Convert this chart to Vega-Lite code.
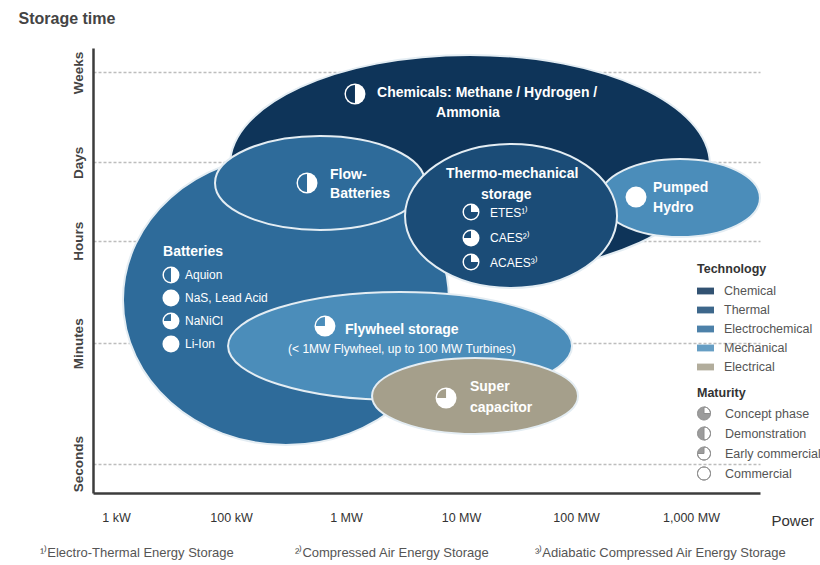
{
  "$schema": "https://vega.github.io/schema/vega-lite/v6.json",
  "width": 667,
  "height": 445,
  "autosize": {"type": "none"},
  "padding": {"left": 93, "top": 48, "right": 60, "bottom": 72},
  "background": "white",
  "config": {"view": {"stroke": null}, "font": "Liberation Sans"},
  "datasets": {
    "ellipses": [
      {"name": "Chemicals", "technology": "Chemical", "px": 3.078, "lvl": 3.054},
      {"name": "Batteries", "technology": "Electrochemical", "px": 1.478, "lvl": 1.673},
      {"name": "Flow-Batteries", "technology": "Electrochemical", "px": 1.774, "lvl": 2.87},
      {"name": "Pumped Hydro", "technology": "Mechanical", "px": 4.904, "lvl": 2.716},
      {"name": "Thermo-mechanical storage", "technology": "Thermal", "px": 3.435, "lvl": 2.532},
      {"name": "Flywheel storage", "technology": "Mechanical", "px": 2.47, "lvl": 1.203},
      {"name": "Super capacitor", "technology": "Electrical", "px": 3.122, "lvl": 0.692}
    ],
    "icons": [
      {"item": "Chemicals", "technology": "Chemical", "maturity": "Demonstration", "kind": "heading", "px": 2.078, "lvl": 3.78},
      {"item": "Flow-Batteries", "technology": "Electrochemical", "maturity": "Demonstration", "kind": "heading", "px": 1.661, "lvl": 2.87},
      {"item": "Pumped Hydro", "technology": "Mechanical", "maturity": "Commercial", "kind": "heading", "px": 4.522, "lvl": 2.726},
      {"item": "Flywheel storage", "technology": "Mechanical", "maturity": "Early commercial", "kind": "heading", "px": 1.817, "lvl": 1.407},
      {"item": "Super capacitor", "technology": "Electrical", "maturity": "Early commercial", "kind": "heading", "px": 2.87, "lvl": 0.671},
      {"item": "ETES", "technology": "Thermal", "maturity": "Concept phase", "kind": "item", "px": 3.087, "lvl": 2.573},
      {"item": "CAES", "technology": "Thermal", "maturity": "Early commercial", "kind": "item", "px": 3.087, "lvl": 2.307},
      {"item": "ACAES", "technology": "Thermal", "maturity": "Concept phase", "kind": "item", "px": 3.087, "lvl": 2.062},
      {"item": "Aquion", "technology": "Electrochemical", "maturity": "Demonstration", "kind": "item", "px": 0.478, "lvl": 1.929},
      {"item": "NaS, Lead Acid", "technology": "Electrochemical", "maturity": "Commercial", "kind": "item", "px": 0.478, "lvl": 1.694},
      {"item": "NaNiCl", "technology": "Electrochemical", "maturity": "Early commercial", "kind": "item", "px": 0.478, "lvl": 1.459},
      {"item": "Li-Ion", "technology": "Electrochemical", "maturity": "Commercial", "kind": "item", "px": 0.478, "lvl": 1.223}
    ],
    "labels": [
      {"text": "Chemicals: Methane / Hydrogen /", "kind": "heading", "px": 2.27, "lvl": 3.79},
      {"text": "Ammonia", "kind": "heading", "px": 2.783, "lvl": 3.585},
      {"text": "Flow-", "kind": "heading", "px": 1.861, "lvl": 2.951},
      {"text": "Batteries", "kind": "heading", "px": 1.861, "lvl": 2.757},
      {"text": "Thermo-mechanical", "kind": "heading", "px": 2.87, "lvl": 2.962},
      {"text": "storage", "kind": "heading", "px": 3.174, "lvl": 2.747},
      {"text": "Pumped", "kind": "heading", "px": 4.67, "lvl": 2.819},
      {"text": "Hydro", "kind": "heading", "px": 4.67, "lvl": 2.614},
      {"text": "Batteries", "kind": "heading", "px": 0.409, "lvl": 2.164},
      {"text": "Flywheel storage", "kind": "heading", "px": 1.991, "lvl": 1.367},
      {"text": "Super", "kind": "heading", "px": 3.078, "lvl": 0.784},
      {"text": "capacitor", "kind": "heading", "px": 3.078, "lvl": 0.569},
      {"text": "ETES¹⁾", "kind": "item", "px": 3.252, "lvl": 2.563},
      {"text": "CAES²⁾", "kind": "item", "px": 3.252, "lvl": 2.307},
      {"text": "ACAES³⁾", "kind": "item", "px": 3.252, "lvl": 2.052},
      {"text": "Aquion", "kind": "item", "px": 0.6, "lvl": 1.929},
      {"text": "NaS, Lead Acid", "kind": "item", "px": 0.6, "lvl": 1.694},
      {"text": "NaNiCl", "kind": "item", "px": 0.6, "lvl": 1.459},
      {"text": "Li-Ion", "kind": "item", "px": 0.6, "lvl": 1.223},
      {"text": "(< 1MW Flywheel, up to 100 MW Turbines)", "kind": "item", "px": 1.496, "lvl": 1.172},
      {"text": "¹⁾Electro-Thermal Energy Storage", "kind": "note", "px": -0.661, "lvl": -0.914},
      {"text": "²⁾Compressed Air Energy Storage", "kind": "note", "px": 1.557, "lvl": -0.914},
      {"text": "³⁾Adiabatic Compressed Air Energy Storage", "kind": "note", "px": 3.643, "lvl": -0.914}
    ]
  },
  "encoding": {
    "x": {
      "field": "px", "type": "quantitative",
      "scale": {"domain": [-0.2, 5.6], "nice": false, "zero": false},
      "axis": {
        "values": [0, 1, 2, 3, 4, 5],
        "labelExpr": "['1 kW', '100 kW', '1 MW', '10 MW', '100 MW', '1,000 MW'][datum.value]",
        "grid": false, "ticks": false, "tickSize": 0,
        "labelPadding": 18, "labelBaseline": "top", "labelFontSize": 12.5, "labelColor": "#333",
        "labelFlush": false, "labelOverlap": false,
        "domainColor": "#3c3c3c", "domainWidth": 2.5,
        "title": "Power", "titleX": 678, "titleY": 27, "titleAlign": "left", "titleBaseline": "middle",
        "titleAngle": 0, "titleFontSize": 15, "titleFontWeight": "normal", "titleColor": "#333"
      }
    },
    "y": {
      "field": "lvl", "type": "quantitative",
      "scale": {"domain": [-0.3, 4.25], "nice": false, "zero": false},
      "axis": {
        "values": [0, 1.23, 2.28, 3.08, 4],
        "labelExpr": "datum.value < 0.5 ? 'Seconds' : datum.value < 1.7 ? 'Minutes' : datum.value < 2.7 ? 'Hours' : datum.value < 3.5 ? 'Days' : 'Weeks'",
        "grid": true, "gridColor": "#bdbdbd", "gridDash": [3, 2], "gridWidth": 1.5,
        "ticks": false, "tickSize": 0,
        "labelAngle": 270, "labelAlign": "center", "labelBaseline": "bottom", "labelPadding": 8,
        "labelFontSize": 13.5, "labelFontWeight": "bold", "labelColor": "#444",
        "labelFlush": false, "labelOverlap": false,
        "domainColor": "#3c3c3c", "domainWidth": 2.5,
        "title": "Storage time", "titleX": -75, "titleY": -30, "titleAlign": "left", "titleBaseline": "middle",
        "titleAngle": 0, "titleFontSize": 16, "titleFontWeight": "bold", "titleColor": "#444"
      }
    }
  },
  "layer": [
    {
      "data": {"name": "ellipses"},
      "mark": {"type": "point", "filled": true, "size": 4, "opacity": 1, "stroke": "#e4edf3", "strokeWidth": 2},
      "encoding": {
        "color": {
          "field": "technology", "type": "nominal",
          "scale": {
            "domain": ["Chemical", "Thermal", "Electrochemical", "Mechanical", "Electrical"],
            "range": ["#0e3459", "#1b4c77", "#2e6b9a", "#4b8dba", "#a59f8b"]
          },
          "legend": {
            "title": "Technology", "orient": "none", "legendX": 604, "legendY": 215,
            "symbolType": "M-1,-0.4H1V0.4H-1Z", "symbolSize": 289, "symbolStrokeWidth": 0, "symbolOpacity": 0.85,
            "labelFontSize": 12.5, "labelColor": "#555", "labelOffset": 10,
            "titleFontSize": 12.5, "titleFontWeight": "bold", "titleColor": "#333", "titlePadding": 7,
            "rowPadding": 4
          }
        },
        "shape": {
          "field": "name", "type": "nominal",
          "scale": {
            "domain": ["Chemicals", "Batteries", "Flow-Batteries", "Pumped Hydro", "Thermo-mechanical storage", "Flywheel storage", "Super capacitor"],
            "range": [
              "M-240,0A240,110 0 1,0 240,0A240,110 0 1,0 -240,0Z",
              "M-163,0A163,145 0 1,0 163,0A163,145 0 1,0 -163,0Z",
              "M-105,0A105,47 0 1,0 105,0A105,47 0 1,0 -105,0Z",
              "M-80,0A80,39 0 1,0 80,0A80,39 0 1,0 -80,0Z",
              "M-106,0A106,72 0 1,0 106,0A106,72 0 1,0 -106,0Z",
              "M-172,0A172,54 0 1,0 172,0A172,54 0 1,0 -172,0Z",
              "M-103,0A103,38 0 1,0 103,0A103,38 0 1,0 -103,0Z"
            ]
          },
          "legend": null
        }
      }
    },
    {
      "data": {"name": "icons"},
      "mark": {"type": "point", "shape": "circle", "filled": true, "color": "white", "opacity": 1, "strokeWidth": 0},
      "encoding": {
        "size": {"field": "kind", "type": "nominal", "scale": {"domain": ["heading", "item"], "range": [441, 289]}, "legend": null}
      }
    },
    {
      "data": {"name": "icons"},
      "mark": {"type": "point", "filled": true, "opacity": 1, "strokeWidth": 0},
      "encoding": {
        "color": {
          "field": "technology", "type": "nominal",
          "scale": {
            "domain": ["Chemical", "Thermal", "Electrochemical", "Mechanical", "Electrical"],
            "range": ["#0e3459", "#1b4c77", "#2e6b9a", "#4b8dba", "#a59f8b"]
          },
          "legend": {
            "title": "Technology", "orient": "none", "legendX": 604, "legendY": 215,
            "symbolType": "M-1,-0.4H1V0.4H-1Z", "symbolSize": 289, "symbolStrokeWidth": 0, "symbolOpacity": 0.85,
            "labelFontSize": 12.5, "labelColor": "#555", "labelOffset": 10,
            "titleFontSize": 12.5, "titleFontWeight": "bold", "titleColor": "#333", "titlePadding": 7,
            "rowPadding": 4
          }
        },
        "shape": {
          "field": "maturity", "type": "nominal",
          "scale": {
            "domain": ["Concept phase", "Demonstration", "Early commercial", "Commercial"],
            "range": [
              "M1,0A1,1 0 1,1 -1,0A1,1 0 1,1 1,0ZM0,0L1,0A1,1 0 0,0 0,-1Z",
              "M1,0A1,1 0 1,1 -1,0A1,1 0 1,1 1,0ZM0,1A1,1 0 0,0 0,-1Z",
              "M1,0A1,1 0 1,1 -1,0A1,1 0 1,1 1,0ZM0,0L-1,0A1,1 0 1,0 0,-1Z",
              "M1,0A1,1 0 1,1 -1,0A1,1 0 1,1 1,0ZM1,0A1,1 0 1,0 -1,0A1,1 0 1,0 1,0Z"
            ]
          },
          "legend": {
            "title": "Maturity", "orient": "none", "legendX": 604, "legendY": 339,
            "symbolSize": 169, "symbolFillColor": "#9c9c9c", "symbolStrokeColor": "#8e8e8e", "symbolStrokeWidth": 1,
            "labelFontSize": 12.5, "labelColor": "#555", "labelOffset": 14,
            "titleFontSize": 12.5, "titleFontWeight": "bold", "titleColor": "#333", "titlePadding": 7,
            "rowPadding": 2
          }
        },
        "size": {"field": "kind", "type": "nominal", "scale": {"domain": ["heading", "item"], "range": [324, 196]}, "legend": null}
      }
    },
    {
      "data": {"name": "labels"},
      "transform": [{"filter": "datum.kind === 'heading'"}],
      "mark": {"type": "text", "align": "left", "baseline": "middle", "fontSize": 14, "fontWeight": "bold", "color": "white"},
      "encoding": {"text": {"field": "text"}}
    },
    {
      "data": {"name": "labels"},
      "transform": [{"filter": "datum.kind === 'item'"}],
      "mark": {"type": "text", "align": "left", "baseline": "middle", "fontSize": 12, "color": "white"},
      "encoding": {"text": {"field": "text"}}
    },
    {
      "data": {"name": "labels"},
      "transform": [{"filter": "datum.kind === 'note'"}],
      "mark": {"type": "text", "align": "left", "baseline": "middle", "fontSize": 13, "color": "#555"},
      "encoding": {"text": {"field": "text"}}
    },
    {
      "data": {"values": [{}]},
      "mark": {"type": "point", "shape": "triangle-up", "filled": true, "size": 110, "color": "#3c3c3c", "opacity": 1},
      "encoding": {
        "x": {"datum": -0.2, "type": "quantitative"},
        "y": {"datum": 4.25, "type": "quantitative"}
      }
    },
    {
      "data": {"values": [{}]},
      "mark": {"type": "point", "shape": "triangle-right", "filled": true, "size": 110, "color": "#3c3c3c", "opacity": 1},
      "encoding": {
        "x": {"datum": 5.6, "type": "quantitative"},
        "y": {"datum": -0.3, "type": "quantitative"}
      }
    }
  ],
  "resolve": {
    "scale": {"shape": "independent", "size": "independent"},
    "legend": {"shape": "independent", "size": "independent"}
  }
}
